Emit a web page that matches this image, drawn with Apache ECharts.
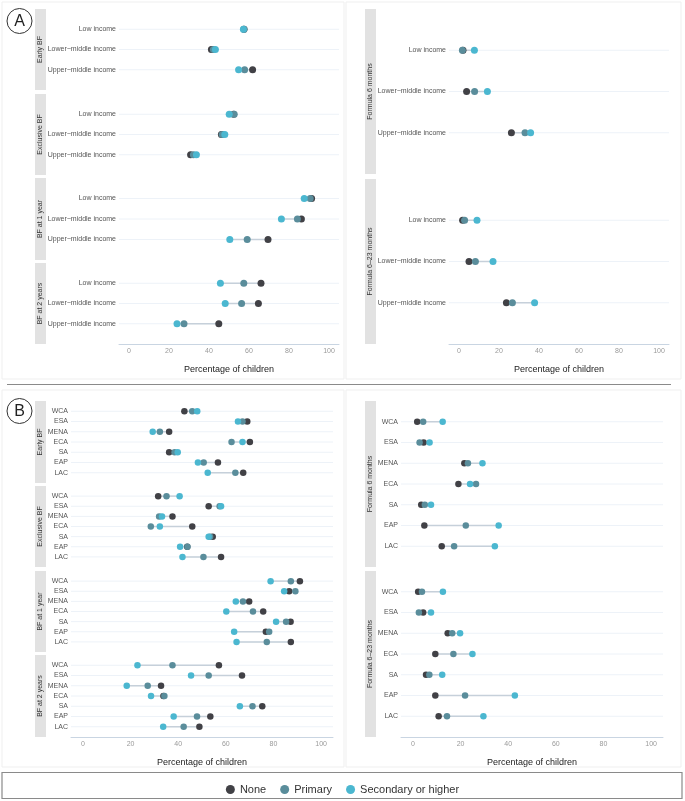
<!DOCTYPE html>
<html>
<head>
<meta charset="utf-8">
<script src="https://cdn.jsdelivr.net/npm/echarts@6/dist/echarts.min.js"></script>
<style>
html,body{margin:0;padding:0;background:#fff;}
#c{width:685px;height:801px;}
</style>
</head>
<body>
<div id="c"></div>
<script>
// ---------- categories ----------
const incomeGroups = ['Low income', 'Lower\u2212middle income', 'Upper\u2212middle income'];
const regions = ['WCA', 'ESA', 'MENA', 'ECA', 'SA', 'EAP', 'LAC'];
const xTicks = [0, 20, 40, 60, 80, 100];
const seriesNames = ['None', 'Primary', 'Secondary or higher'];

// ---------- Panel A: by income group ----------
const incEarlyNone = [57.5, 41.2, 61.8];
const incEarlyPrim = [57.5, 42.2, 57.8];
const incEarlySec  = [57.2, 43.2, 54.8];

const incExclNone = [52.3, 46.2, 30.8];
const incExclPrim = [52.6, 46.6, 32.2];
const incExclSec  = [50.1, 47.9, 33.7];

const incBF1None = [91.3, 86.2, 69.5];
const incBF1Prim = [90.6, 84.2, 59.1];
const incBF1Sec  = [87.6, 76.2, 50.4];

const incBF2None = [66.0, 64.7, 44.9];
const incBF2Prim = [57.4, 56.3, 27.5];
const incBF2Sec  = [45.7, 48.1, 24.0];

const incF6None = [2.0, 3.8, 26.2];
const incF6Prim = [1.7, 7.8, 33.0];
const incF6Sec  = [7.7, 14.2, 35.8];

const incF623None = [1.8, 5.0, 23.7];
const incF623Prim = [2.8, 8.2, 26.7];
const incF623Sec  = [9.0, 17.0, 37.8];

// ---------- Panel B: by region ----------
const regEarlyNone = [42.6, 69.0, 36.2, 70.1, 36.2, 56.7, 67.3];
const regEarlyPrim = [45.9, 67.0, 32.3, 62.4, 38.5, 50.7, 64.0];
const regEarlySec  = [48.0, 65.1, 29.3, 67.0, 39.8, 48.3, 52.4];

const regExclNone = [31.6, 52.8, 37.6, 45.9, 54.5, 43.8, 58.0];
const regExclPrim = [35.1, 57.4, 32.0, 28.5, 53.4, 43.9, 50.6];
const regExclSec  = [40.6, 58.0, 33.2, 32.3, 52.8, 40.8, 41.8];

const regBF1None = [91.1, 86.6, 69.8, 75.7, 87.2, 76.8, 87.3];
const regBF1Prim = [87.3, 89.2, 67.2, 71.4, 85.3, 78.2, 77.2];
const regBF1Sec  = [78.8, 84.5, 64.2, 60.2, 81.1, 63.5, 64.5];

const regBF2None = [57.1, 66.8, 32.8, 33.8, 75.3, 53.5, 48.9];
const regBF2Prim = [37.6, 52.8, 27.2, 34.2, 71.2, 47.9, 42.3];
const regBF2Sec  = [22.9, 45.4, 18.4, 28.6, 65.9, 38.1, 33.7];

const regF6None = [1.8, 4.5, 21.6, 19.1, 3.5, 4.8, 12.1];
const regF6Prim = [4.3, 2.8, 23.1, 26.5, 5.0, 22.2, 17.3];
const regF6Sec  = [12.5, 7.0, 29.2, 24.0, 7.6, 36.0, 34.4];

const regF623None = [2.2, 4.3, 14.6, 9.4, 5.5, 9.4, 10.8];
const regF623Prim = [3.8, 2.5, 16.5, 17.0, 6.9, 21.9, 14.3];
const regF623Sec  = [12.6, 7.6, 19.8, 25.0, 12.3, 42.8, 29.6];

// ---------- styling ----------
const colors = ['#414146', '#5a8d9b', '#4bb7d0'];
const FONT = 'Liberation Sans, Arial, Helvetica, sans-serif';

// panel layout
const panels = [
  {strip:'Early BF', cats:incomeGroups, vals:[incEarlyNone,incEarlyPrim,incEarlySec], left:119, top:9, width:220, height:81, sx:35, axis:false, ss:7},
  {strip:'Exclusive BF', cats:incomeGroups, vals:[incExclNone,incExclPrim,incExclSec], left:119, top:94, width:220, height:81, sx:35, axis:false, ss:7},
  {strip:'BF at 1 year', cats:incomeGroups, vals:[incBF1None,incBF1Prim,incBF1Sec], left:119, top:178, width:220, height:82, sx:35, axis:false, ss:7},
  {strip:'BF at 2 years', cats:incomeGroups, vals:[incBF2None,incBF2Prim,incBF2Sec], left:119, top:263, width:220, height:81, sx:35, axis:true, ss:7},
  {strip:'Formula 6 months', cats:incomeGroups, vals:[incF6None,incF6Prim,incF6Sec], left:449, top:9, width:220, height:165, sx:365, axis:false, ss:7},
  {strip:'Formula 6\u201323 months', cats:incomeGroups, vals:[incF623None,incF623Prim,incF623Sec], left:449, top:179, width:220, height:165, sx:365, axis:true, ss:7},

  {strip:'Early BF', cats:regions, vals:[regEarlyNone,regEarlyPrim,regEarlySec], left:71, top:401, width:262, height:82, sx:35, axis:false, ss:6.5},
  {strip:'Exclusive BF', cats:regions, vals:[regExclNone,regExclPrim,regExclSec], left:71, top:486, width:262, height:81, sx:35, axis:false, ss:6.5},
  {strip:'BF at 1 year', cats:regions, vals:[regBF1None,regBF1Prim,regBF1Sec], left:71, top:571, width:262, height:81, sx:35, axis:false, ss:6.5},
  {strip:'BF at 2 years', cats:regions, vals:[regBF2None,regBF2Prim,regBF2Sec], left:71, top:655, width:262, height:82, sx:35, axis:true, ss:6.5},
  {strip:'Formula 6 months', cats:regions, vals:[regF6None,regF6Prim,regF6Sec], left:401, top:401, width:262, height:166, sx:365, axis:false, ss:6.5},
  {strip:'Formula 6\u201323 months', cats:regions, vals:[regF623None,regF623Prim,regF623Sec], left:401, top:571, width:262, height:166, sx:365, axis:true, ss:6.5}
];

const grids = [], xAxes = [], yAxes = [], series = [], graphics = [];

// frames and separators
graphics.push(
  {type:'rect', shape:{x:2, y:2, width:342, height:377}, style:{fill:'none', stroke:'#efefef', lineWidth:1}, silent:true},
  {type:'rect', shape:{x:346, y:2, width:335, height:377}, style:{fill:'none', stroke:'#efefef', lineWidth:1}, silent:true},
  {type:'rect', shape:{x:2, y:390, width:342, height:377}, style:{fill:'none', stroke:'#efefef', lineWidth:1}, silent:true},
  {type:'rect', shape:{x:346, y:390, width:335, height:377}, style:{fill:'none', stroke:'#efefef', lineWidth:1}, silent:true},
  {type:'line', shape:{x1:7, y1:384.5, x2:671, y2:384.5}, style:{stroke:'#8a8a8a', lineWidth:1.2}, silent:true},
  {type:'rect', shape:{x:2, y:772.5, width:680, height:26}, style:{fill:'#fff', stroke:'#8a8a8a', lineWidth:1.2}, silent:true, z:-1},
  {type:'circle', shape:{cx:19.5, cy:21, r:12.5}, style:{fill:'#fff', stroke:'#333', lineWidth:1}, silent:true},
  {type:'text', x:19.5, y:21.5, style:{text:'A', fontSize:16, fontFamily:FONT, fill:'#222', textAlign:'center', textVerticalAlign:'middle'}, silent:true},
  {type:'circle', shape:{cx:19.5, cy:411, r:12.5}, style:{fill:'#fff', stroke:'#333', lineWidth:1}, silent:true},
  {type:'text', x:19.5, y:411.5, style:{text:'B', fontSize:16, fontFamily:FONT, fill:'#222', textAlign:'center', textVerticalAlign:'middle'}, silent:true}
);

panels.forEach((p, i) => {
  grids.push({left:p.left, top:p.top, width:p.width, height:p.height});
  xAxes.push({
    type:'value', gridIndex:i, min:-5, max:105,
    axisLine:{show:p.axis, lineStyle:{color:'#c9d5e2', width:1}},
    axisTick:{show:false},
    splitLine:{show:false},
    axisLabel:{show:p.axis, customValues:xTicks, fontSize:7, color:'#9a9a9a', fontFamily:FONT, margin:4},
    name:p.axis ? 'Percentage of children' : '',
    nameLocation:'middle', nameGap:21,
    nameTextStyle:{fontSize:9, color:'#222', fontFamily:FONT}
  });
  const paddedCats = [''].concat(p.cats, ['']);
  yAxes.push({
    type:'category', gridIndex:i, data:paddedCats, inverse:true, boundaryGap:false,
    axisLine:{show:false}, axisTick:{show:false}, splitLine:{show:false},
    axisLabel:{interval:0, fontSize:7, color:'#555', fontFamily:FONT, margin:3}
  });

  // row guide lines + dumbbell segments
  const segData = p.cats.map((c, k) => {
    const vs = p.vals.map(a => a[k]);
    return [Math.min.apply(null, vs), Math.max.apply(null, vs), c];
  });
  series.push({
    type:'custom', xAxisIndex:i, yAxisIndex:i, silent:true, z:1,
    encode:{x:[0,1], y:2},
    data:segData,
    renderItem:(params, api) => {
      const cs = params.coordSys;
      const cat = api.value(2);
      const a = api.coord([api.value(0), cat]);
      const b = api.coord([api.value(1), cat]);
      return {type:'group', children:[
        {type:'line', shape:{x1:cs.x, y1:a[1], x2:cs.x + cs.width, y2:a[1]}, style:{stroke:'#edf2f8', lineWidth:1}},
        {type:'line', shape:{x1:a[0], y1:a[1], x2:b[0], y2:b[1]}, style:{stroke:'#c6d0da', lineWidth:1.5}}
      ]};
    }
  });

  p.vals.forEach((arr, s) => {
    series.push({
      type:'scatter', name:seriesNames[s], xAxisIndex:i, yAxisIndex:i,
      symbol:'circle', symbolSize:p.ss, z:3 + s,
      itemStyle:{color:colors[s], opacity:1},
      emphasis:{disabled:true},
      data:p.cats.map((c, k) => [arr[k], c])
    });
  });

  // facet strip
  graphics.push({type:'rect', shape:{x:p.sx, y:p.top, width:11, height:p.height}, style:{fill:'#e2e2e2'}, silent:true});
  graphics.push({type:'text', x:p.sx + 5.5, y:p.top + p.height / 2, rotation:Math.PI / 2,
    style:{text:p.strip, fontSize:7, fontFamily:FONT, fill:'#333', textAlign:'center', textVerticalAlign:'middle'}, silent:true});
});

const chart = echarts.init(document.getElementById('c'), null, {renderer:'canvas'});
chart.setOption({
  animation:false,
  backgroundColor:'#ffffff',
  textStyle:{fontFamily:FONT},
  grid:grids, xAxis:xAxes, yAxis:yAxes, series:series,
  legend:{
    data:seriesNames.map((n, s) => ({name:n, itemStyle:{color:colors[s]}})),
    top:779, left:'center', icon:'circle', itemWidth:9, itemHeight:9, itemGap:14,
    selectedMode:false,
    textStyle:{fontSize:11, color:'#333', fontFamily:FONT}
  },
  graphic:graphics
});
</script>
</body>
</html>
